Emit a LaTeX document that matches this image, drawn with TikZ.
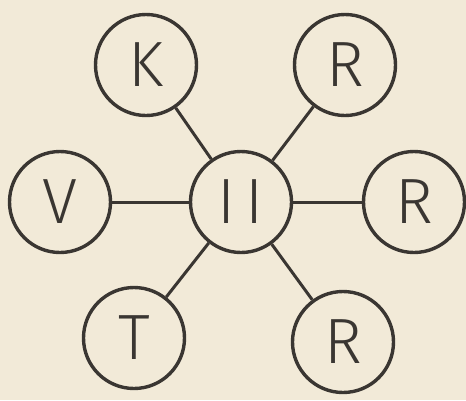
\documentclass[tikz,border=0pt]{standalone}
\usepackage{fontspec}
\setmainfont{Fira Sans Light}
\definecolor{paper}{HTML}{F2EAD8}
\definecolor{ink}{HTML}{3A3632}
\begin{document}
\begin{tikzpicture}[x=1pt,y=-1pt,
  letter/.style={circle,draw=ink,line width=3.4pt,minimum size=101pt,inner sep=0pt,
    text=ink,font=\fontsize{64}{64}\selectfont},
  spoke/.style={draw=ink,line width=3pt}]
\fill[paper] (0,0) rectangle (466,400);
\useasboundingbox (0,0) rectangle (466,400);
\node[letter] (c) at (241,202) {I\kern10pt I};
\node[letter] (k) at (146,65) {K};
\node[letter] (r1) at (345,65) {R};
\node[letter] (v) at (60,202) {V};
\node[letter] (r2) at (414,202) {R};
\node[letter] (t) at (134,338) {T};
\node[letter] (r3) at (343,342) {R};
\foreach \n in {k,r1,v,r2,t,r3} \draw[spoke] (c) -- (\n);
\end{tikzpicture}
\end{document}
